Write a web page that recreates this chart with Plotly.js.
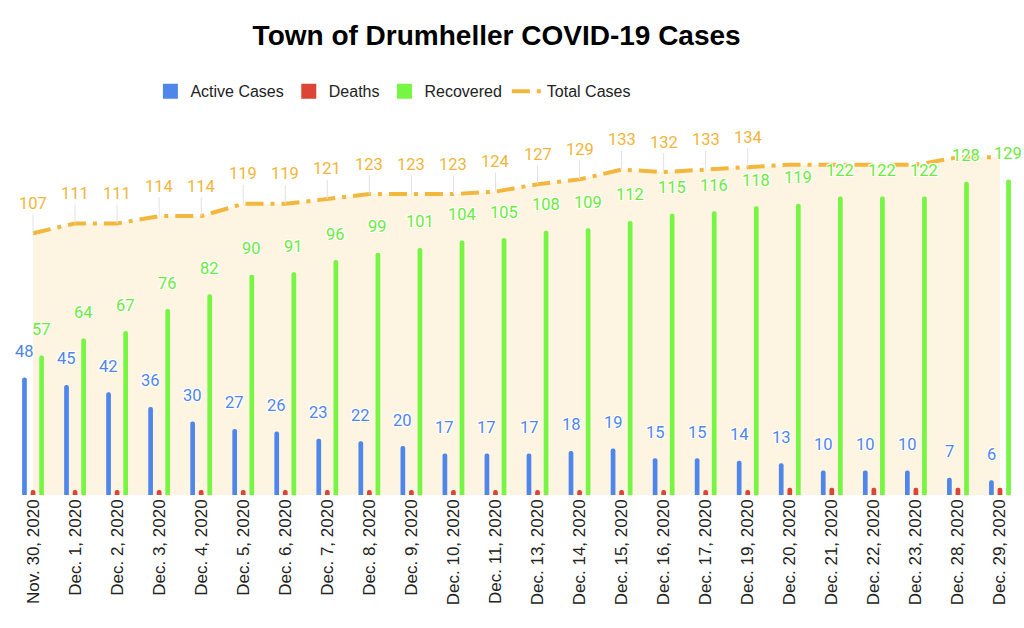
<!DOCTYPE html>
<html><head><meta charset="utf-8">
<script src="https://cdn.plot.ly/plotly-3.0.1.min.js"></script>
<style>html,body{margin:0;padding:0;background:#fff}#chart{width:1024px;height:628px}</style>
</head><body><div id="chart"></div>
<script>
const dates = ["Nov. 30, 2020","Dec. 1, 2020","Dec. 2, 2020","Dec. 3, 2020","Dec. 4, 2020","Dec. 5, 2020","Dec. 6, 2020","Dec. 7, 2020","Dec. 8, 2020","Dec. 9, 2020","Dec. 10, 2020","Dec. 11, 2020","Dec. 13, 2020","Dec. 14, 2020","Dec. 15, 2020","Dec. 16, 2020","Dec. 17, 2020","Dec. 19, 2020","Dec. 20, 2020","Dec. 21, 2020","Dec. 22, 2020","Dec. 23, 2020","Dec. 28, 2020","Dec. 29, 2020"];
const activeCases = [48,45,42,36,30,27,26,23,22,20,17,17,17,18,19,15,15,14,13,10,10,10,7,6];
const deaths = [2,2,2,2,2,2,2,2,2,2,2,2,2,2,2,2,2,2,3,3,3,3,3,3];
const recovered = [57,64,67,76,82,90,91,96,99,101,104,105,108,109,112,115,116,118,119,122,122,122,128,129];
const totalCases = [107,111,111,114,114,119,119,121,123,123,123,124,127,129,133,132,133,134,135,135,135,135,138,138];
const totalLabelsShown = 18; // Total Cases labels visible in the original (the rest are hidden by overlap)

const BLUE = '#4F86EC', RED = '#DB4437', GREEN = '#76F542', ORANGE = '#F2B73D';
const GREEN_TXT = '#6CEB3A', ORANGE_TXT = '#F2B53A';
const halo = '-1px -1px 0 #fff, 1px -1px 0 #fff, -1px 1px 0 #fff, 1px 1px 0 #fff';
const lblFont = c => ({family: 'Roboto, Arial, sans-serif', size: 16.5, color: c, shadow: halo});

const barSeries = [
  {name: 'Active Cases', y: activeCases, color: BLUE},
  {name: 'Deaths', y: deaths, color: RED},
  {name: 'Recovered', y: recovered, color: GREEN}
];

const traces = [
  {x: dates, y: totalCases, xaxis: 'x', yaxis: 'y', type: 'scatter', mode: 'lines',
   line: {width: 0}, fill: 'tozeroy', fillcolor: '#FDF5E2', showlegend: false, hoverinfo: 'skip'}
];
barSeries.forEach(s => traces.push({x: dates, y: s.y, name: s.name, type: 'bar', xaxis: 'x2', yaxis: 'y2',
  showlegend: false, marker: {color: s.color, cornerradius: '50%'}}));
// legend-only entries (square swatches like the original)
barSeries.forEach(s => traces.push({x: [null], y: [null], name: s.name, type: 'scatter', mode: 'markers',
  xaxis: 'x2', yaxis: 'y2', marker: {symbol: 'square', size: 15, color: s.color}}));
traces.push({x: dates, y: totalCases, name: 'Total Cases', type: 'scatter', mode: 'lines', xaxis: 'x2', yaxis: 'y2',
  line: {color: ORANGE, width: 4, dash: '18px,7px,4px,7px'}});

const annotations = [];
dates.forEach((d, i) => {
  annotations.push({xref: 'x2', yref: 'y2', x: d, y: activeCases[i], text: String(activeCases[i]),
    showarrow: false, xshift: -8.5, yshift: 26, yanchor: 'middle', font: lblFont(BLUE)});
  annotations.push({xref: 'x2', yref: 'y2', x: d, y: recovered[i], text: String(recovered[i]),
    showarrow: false, xshift: 8.5, yshift: 26, yanchor: 'middle', font: lblFont(GREEN_TXT)});
  if (i < totalLabelsShown) {
    annotations.push({xref: 'x2', yref: 'y2', x: d, y: totalCases[i], text: String(totalCases[i]),
      showarrow: true, arrowhead: 0, arrowwidth: 1, arrowcolor: '#e2e2e2', ax: 0, ay: -30, standoff: 0,
      font: lblFont(ORANGE_TXT)});
  }
});

const layout = {
  width: 1024, height: 628,
  margin: {l: 12, r: 3, t: 128, b: 133},
  paper_bgcolor: '#fff', plot_bgcolor: '#fff',
  title: {text: 'Town of Drumheller COVID-19 Cases', x: 0.485, xref: 'container', xanchor: 'center',
    y: 0.944, yref: 'container', yanchor: 'middle',
    font: {family: 'Liberation Sans, Arial, sans-serif', size: 28, color: '#000', weight: 'bold'}},
  barmode: 'group', bargap: 0.39, bargroupgap: 0.45,
  xaxis: {type: 'category', range: [-0.5, 23.5], tickangle: -90, showgrid: false, showline: false,
    zeroline: false, ticks: '', tickfont: {family: 'Liberation Sans, Arial, sans-serif', size: 17, color: '#222'}},
  xaxis2: {type: 'category', overlaying: 'x', range: [-0.5, 23.5], visible: false},
  yaxis: {range: [0, 150], visible: false},
  yaxis2: {overlaying: 'y', range: [0, 150], visible: false},
  legend: {orientation: 'h', x: 0.378, xanchor: 'center', y: 1.10, yanchor: 'middle',
    font: {family: 'Liberation Sans, Arial, sans-serif', size: 16, color: '#222'}},
  hovermode: false,
  annotations: annotations
};

Plotly.newPlot('chart', traces, layout, {displayModeBar: false, staticPlot: true});
</script>
</body></html>
